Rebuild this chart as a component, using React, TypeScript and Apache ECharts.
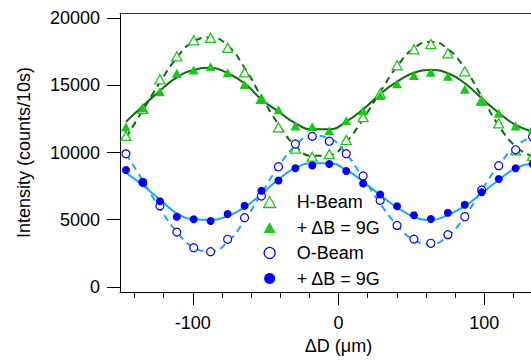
import React, { useEffect, useRef } from "react";
import * as echarts from "echarts";

// Displacement ΔD (µm) of each measured point
const positions = [-145.9, -134.3, -122.6, -111.0, -99.4, -87.8, -76.1, -64.5, -52.9, -41.2, -29.6, -18.0, -6.3, 5.3, 16.9, 28.6, 40.2, 51.8, 63.4, 75.1, 86.7, 98.3, 110.0, 121.6, 133.2];

// Measured intensities (counts/10s)
const hBeam = [11230, 13250, 15440, 17150, 18340, 18520, 17780, 15950, 13990, 11870, 10280, 9690, 9880, 10930, 12630, 14400, 16480, 17670, 18065, 17375, 16040, 13880, 12170, 10160, 9750];
const hBeamB = [11900, 13330, 14520, 15890, 16130, 16380, 15930, 15060, 13990, 13180, 11970, 11920, 11620, 12365, 13100, 14240, 15120, 15720, 15960, 15670, 14700, 13800, 12915, 11970, 11800];
const oBeam = [9900, 7784, 6030, 4080, 2922, 2625, 3546, 5152, 6766, 8944, 10632, 11200, 10840, 9910, 8253, 6440, 4580, 3560, 3249, 3890, 5227, 7212, 9019, 10200, 11175];
const oBeamB = [8700, 7750, 6380, 5227, 5033, 4907, 5428, 6045, 7150, 7920, 8825, 9040, 9145, 8625, 7690, 6880, 6000, 5330, 5056, 5524, 6120, 7050, 8030, 8825, 9150];

// Fitted curves at the same positions
const hBeamFit = [11100, 13150, 15200, 17050, 18250, 18550, 17950, 16300, 14150, 12100, 10500, 9750, 9800, 10800, 12500, 14500, 16400, 17750, 18230, 17700, 16250, 14150, 12000, 10450, 9700];
const hBeamBFit = [12290, 13450, 14595, 15590, 16130, 16305, 15890, 15145, 13950, 13035, 12170, 11725, 11725, 12290, 13210, 14350, 15265, 15930, 16130, 15890, 15145, 14030, 12960, 12045, 11547];
const oBeamFit = [9900, 7900, 5850, 4100, 2950, 2650, 3350, 4950, 6950, 8950, 10500, 11250, 11050, 9900, 8100, 6200, 4600, 3500, 3200, 3800, 5250, 7200, 9050, 10450, 11200];
const oBeamBFit = [8500, 7550, 6500, 5480, 5033, 4980, 5279, 5925, 6900, 8000, 8850, 9197, 9197, 8700, 7829, 6840, 5925, 5227, 4980, 5353, 6022, 6967, 7955, 8825, 9197];

const yTicks = [0, 5000, 10000, 15000, 20000];
const xMajorTicks = [-100, 0, 100];
const xMinorTicks = [-140, -120, -100, -80, -60, -40, -20, 0, 20, 40, 60, 80, 100, 120, 140];

const legendLabels: Record<string, string> = {
  "H-Beam": "H-Beam",
  "H-Beam ΔB": "+ ΔB = 9G",
  "O-Beam": "O-Beam",
  "O-Beam ΔB": "+ ΔB = 9G",
};

const FONT = "Liberation Sans, Arial, Helvetica, sans-serif";
const GREEN = "#17c817";
const DARK_GREEN = "#0a6a0a";
const BLUE = "#0000ff";
const LIGHT_BLUE = "#1aa8ee";

const pairs = (vals: number[]) => positions.map((x, i) => [x, vals[i]]);

export default function App() {
  const ref = useRef<HTMLDivElement>(null);
  useEffect(() => {
    if (!ref.current) return;
    const chart = echarts.init(ref.current, undefined, { renderer: "svg" });
    const gridRect = { left: 120, top: 13, width: 437, height: 279 };
    chart.setOption({
      animation: false,
      backgroundColor: "#ffffff",
      textStyle: { fontFamily: FONT },
      grid: [
        { ...gridRect },
        { ...gridRect },
      ],
      xAxis: [
        {
          type: "value",
          gridIndex: 0,
          position: "bottom",
          min: -150,
          max: 150,
          name: "ΔD (μm)",
          nameLocation: "middle",
          nameGap: 45,
          nameTextStyle: { fontSize: 18, color: "#000", fontFamily: FONT },
          axisLine: { show: true, onZero: false, lineStyle: { color: "#000", width: 1 } },
          axisTick: { show: true, inside: false, length: 13, customValues: xMajorTicks, lineStyle: { color: "#000", width: 1 } },
          axisLabel: { show: true, customValues: xMajorTicks, margin: 22, fontSize: 18, color: "#000", fontFamily: FONT, formatter: (v: number) => String(v) },
          splitLine: { show: false },
        },
        {
          type: "value",
          gridIndex: 0,
          position: "top",
          min: -150,
          max: 150,
          axisLine: { show: true, onZero: false, lineStyle: { color: "#333", width: 1 } },
          axisTick: { show: false },
          axisLabel: { show: false },
          splitLine: { show: false },
        },
        {
          type: "value",
          gridIndex: 1,
          position: "bottom",
          min: -150,
          max: 150,
          axisLine: { show: false, onZero: false },
          axisTick: { show: true, inside: false, length: 6, customValues: xMinorTicks, lineStyle: { color: "#000", width: 1 } },
          axisLabel: { show: false },
          splitLine: { show: false },
        },
      ],
      yAxis: [
        {
          type: "value",
          gridIndex: 0,
          min: -372,
          max: 20372,
          name: "Intensity (counts/10s)",
          nameLocation: "middle",
          nameGap: 87,
          nameTextStyle: { fontSize: 18, color: "#000", fontFamily: FONT },
          axisLine: { show: true, onZero: false, lineStyle: { color: "#000", width: 1 } },
          axisTick: { show: true, inside: false, length: 13, customValues: yTicks, lineStyle: { color: "#000", width: 1 } },
          axisLabel: { show: true, customValues: yTicks, margin: 20, fontSize: 18, color: "#000", fontFamily: FONT, formatter: (v: number) => String(v) },
          splitLine: { show: false },
        },
        {
          type: "value",
          gridIndex: 1,
          min: -372,
          max: 20372,
          show: false,
        },
      ],
      legend: {
        orient: "vertical",
        left: 263,
        top: 193,
        padding: 0,
        itemWidth: 12,
        itemHeight: 11,
        itemGap: 7.5,
        formatter: (name: string) => legendLabels[name] ?? name,
        textStyle: { fontSize: 18, color: "#000", fontFamily: FONT, lineHeight: 18, padding: [0, 0, 0, 16] },
        data: [
          { name: "H-Beam", icon: "triangle", itemStyle: { color: "#fff", borderColor: GREEN, borderWidth: 1.3 } },
          { name: "H-Beam ΔB", icon: "triangle", itemStyle: { color: GREEN, borderColor: GREEN, borderWidth: 0 } },
          { name: "O-Beam", icon: "circle", itemStyle: { color: "#fff", borderColor: BLUE, borderWidth: 1.3 } },
          { name: "O-Beam ΔB", icon: "circle", itemStyle: { color: BLUE, borderColor: BLUE, borderWidth: 0 } },
        ],
      },
      series: [
        {
          name: "H fit",
          type: "line",
          smooth: true,
          showSymbol: false,
          data: pairs(hBeamFit),
          lineStyle: { color: DARK_GREEN, width: 2, type: [7, 5] },
          z: 2,
        },
        {
          name: "H ΔB fit",
          type: "line",
          smooth: true,
          showSymbol: false,
          data: pairs(hBeamBFit),
          lineStyle: { color: DARK_GREEN, width: 2 },
          z: 2,
        },
        {
          name: "O fit",
          type: "line",
          smooth: true,
          showSymbol: false,
          data: pairs(oBeamFit),
          lineStyle: { color: LIGHT_BLUE, width: 2, type: [7, 5] },
          z: 2,
        },
        {
          name: "O ΔB fit",
          type: "line",
          smooth: true,
          showSymbol: false,
          data: pairs(oBeamBFit),
          lineStyle: { color: LIGHT_BLUE, width: 2 },
          z: 2,
        },
        {
          name: "H-Beam",
          type: "scatter",
          symbol: "triangle",
          symbolSize: [10, 9],
          clip: false,
          data: pairs(hBeam),
          itemStyle: { color: "#fff", borderColor: GREEN, borderWidth: 1.3, opacity: 1 },
          z: 3,
        },
        {
          name: "H-Beam ΔB",
          type: "scatter",
          symbol: "triangle",
          symbolSize: [10, 9],
          clip: false,
          data: pairs(hBeamB),
          itemStyle: { color: GREEN, opacity: 1 },
          z: 4,
        },
        {
          name: "O-Beam",
          type: "scatter",
          symbol: "circle",
          symbolSize: 8,
          clip: false,
          data: pairs(oBeam),
          itemStyle: { color: "#fff", borderColor: BLUE, borderWidth: 1.2, opacity: 1 },
          z: 3,
        },
        {
          name: "O-Beam ΔB",
          type: "scatter",
          symbol: "circle",
          symbolSize: 8,
          clip: false,
          data: pairs(oBeamB),
          itemStyle: { color: BLUE, opacity: 1 },
          z: 4,
        },
      ],
    });
    return () => chart.dispose();
  }, []);
  return (
    <div style={{ position: "fixed", left: 0, top: 0, width: 531, height: 360, overflow: "hidden", background: "#fff" }}>
      <div ref={ref} style={{ width: 600, height: 360 }} />
    </div>
  );
}
